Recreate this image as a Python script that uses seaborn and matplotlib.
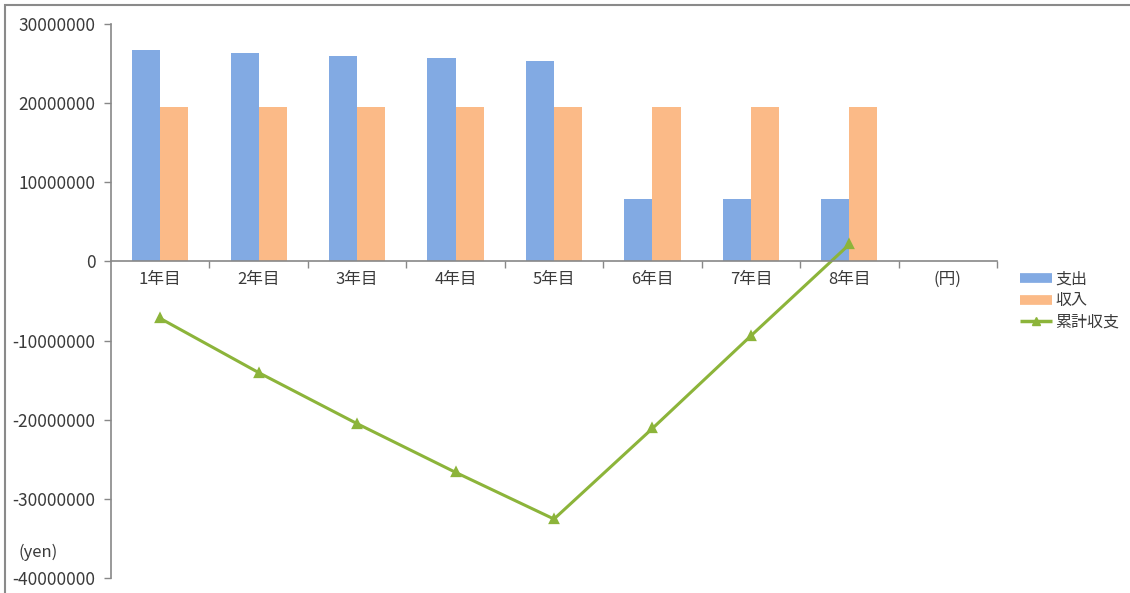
import numpy as np
import pandas as pd
import matplotlib
matplotlib.use("Agg")
import matplotlib.pyplot as plt
from matplotlib.lines import Line2D
from matplotlib.patches import Rectangle
import seaborn as sns

# Data
categories = ["1年目", "2年目", "3年目", "4年目", "5年目", "6年目", "7年目", "8年目", "(円)"]
years = categories[:8]
expense = [26700000, 26300000, 25900000, 25700000, 25300000, 7900000, 7900000, 7900000]
income = [19450000, 19450000, 19450000, 19450000, 19450000, 19450000, 19450000, 19450000]
cumulative = [-7200000, -14050000, -20500000, -26650000, -32550000, -21100000, -9400000, 2150000]
series_names = ["支出", "収入", "累計収支"]
y_ticks = [30000000, 20000000, 10000000, 0, -10000000, -20000000, -30000000, -40000000]
unit_label = "(yen)"

BLUE = "#82AAE3"
ORANGE = "#FBBA87"
GREEN = "#8CB43A"
AXIS = "#888888"
TEXT = "#3a3a3a"

sns.set_theme(style="white")
plt.rcParams["font.family"] = ["Noto Sans CJK JP", "DejaVu Sans"]

bars = pd.DataFrame({
    "year": years * 2,
    "value": expense + income,
    "series": [series_names[0]] * 8 + [series_names[1]] * 8,
})
line = pd.DataFrame({"year": years, "value": cumulative})

fig = plt.figure(figsize=(11.30, 5.93), dpi=100)
ax = fig.add_axes([111 / 1130, 1 - 578 / 593, (997 - 111) / 1130, (578 - 24) / 593])

sns.barplot(data=bars, x="year", y="value", hue="series", order=categories,
            palette=[BLUE, ORANGE], width=0.57, saturation=1, gap=0,
            linewidth=0, legend=False, ax=ax)
sns.pointplot(data=line, x="year", y="value", order=categories, color=GREEN,
              markers="^", markersize=6, linewidth=2.2, errorbar=None, ax=ax)

ax.set_xlim(-0.5, len(categories) - 0.5)
ax.set_ylim(-40000000, 30000000)
ax.set_yticks(y_ticks)
ax.set_yticklabels([str(v) for v in y_ticks])
ax.set_xlabel("")
ax.set_ylabel("")

# Spines: left axis and the zero line only
for side in ["top", "right"]:
    ax.spines[side].set_visible(False)
ax.spines["bottom"].set_position(("data", 0))
for side in ["left", "bottom"]:
    ax.spines[side].set_color(AXIS)
    ax.spines[side].set_linewidth(1.2)

ax.tick_params(axis="y", which="major", left=True, length=5, width=1, color=AXIS,
               labelsize=12.5, labelcolor=TEXT, pad=6)
ax.tick_params(axis="x", which="major", bottom=False, length=0,
               labelsize=12, labelcolor=TEXT, pad=7)
ax.set_xticks(np.arange(len(categories)) + 0.5, minor=True)
ax.tick_params(axis="x", which="minor", bottom=True, direction="out", length=5,
               width=1, color=AXIS)

# Unit label beside the y axis
fig.text(19 / 1130, 1 - 552 / 593, unit_label, fontsize=12, color=TEXT,
         va="center", ha="left")

# Legend
handles = [
    Line2D([0], [0], color=BLUE, lw=7, solid_capstyle="butt"),
    Line2D([0], [0], color=ORANGE, lw=7, solid_capstyle="butt"),
    Line2D([0], [0], color=GREEN, lw=2.5, marker="^", markersize=6,
           solid_capstyle="butt"),
]
fig.legend(handles, series_names, loc="upper left",
           bbox_to_anchor=(1006 / 1130, 1 - 256 / 593), frameon=False,
           fontsize=11.5, labelcolor=TEXT, handlelength=2.0, handletextpad=0.2,
           labelspacing=0.3)

# Chart frame
fig.patches.append(Rectangle((5 / 1130, -0.1), 1.2, 1 - 5 / 593 + 0.1,
                             transform=fig.transFigure, fill=False,
                             edgecolor="#8a8a8a", linewidth=1.5))

fig.savefig("out.png", dpi=100, facecolor="white")
